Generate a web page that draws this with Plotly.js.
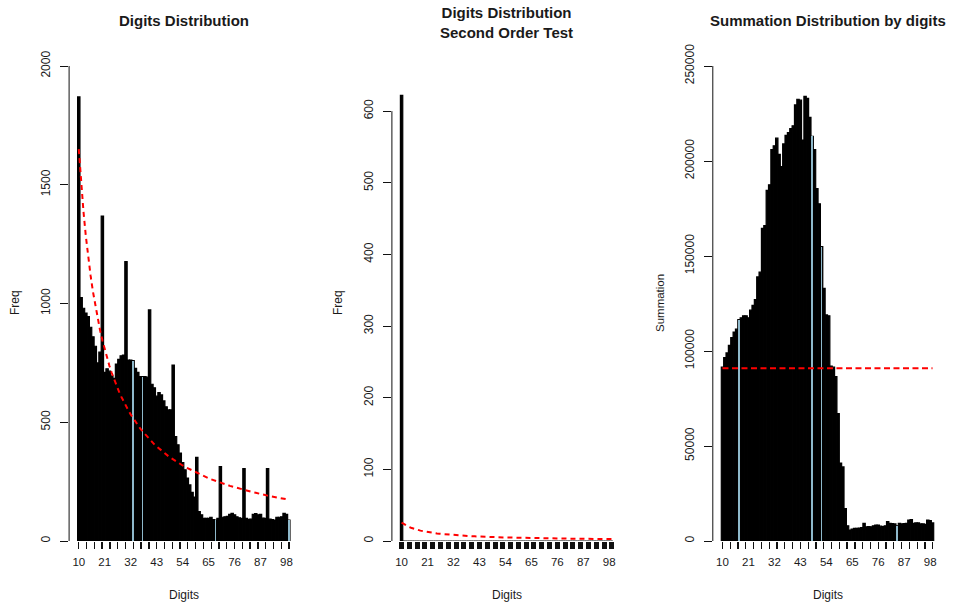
<!DOCTYPE html>
<html>
<head>
<meta charset="utf-8">
<script src="https://cdn.plot.ly/plotly-3.0.1.min.js"></script>
<style>html,body{margin:0;padding:0;background:#fff;}#chart{width:956px;height:605px;}</style>
</head>
<body>
<div id="chart"></div>
<script>
// ---- data ----
const digits = [10,11,12,13,14,15,16,17,18,19,20,21,22,23,24,25,26,27,28,29,30,31,32,33,34,35,36,37,38,39,40,41,42,43,44,45,46,47,48,49,50,51,52,53,54,55,56,57,58,59,60,61,62,63,64,65,66,67,68,69,70,71,72,73,74,75,76,77,78,79,80,81,82,83,84,85,86,87,88,89,90,91,92,93,94,95,96,97,98,99];

const freqFirstTwo = [1870,1025,980,960,945,900,860,820,750,795,
  1368,710,725,715,695,685,745,765,780,783,
  1176,762,762,760,727,710,692,692,692,690,
  973,660,645,610,625,615,590,565,552,552,
  741,440,405,370,330,300,265,236,205,185,
  352,124,110,95,95,95,100,90,88,95,
  313,100,102,104,112,116,110,102,98,95,
  305,95,91,92,112,115,110,112,96,95,
  305,92,90,88,100,100,102,116,112,88];

const expectedFirstTwo = [1650,1507,1386,1283,1195,1118,1050,990,936,888,
  845,806,770,737,707,679,654,630,608,587,
  568,550,533,517,502,488,474,462,450,438,
  428,417,407,398,389,381,372,365,357,350,
  343,336,330,324,318,312,307,301,296,291,
  286,282,277,273,269,264,260,257,253,249,
  246,242,239,236,232,229,226,223,221,218,
  215,213,210,207,205,203,200,198,196,193,
  191,189,187,185,183,181,179,178,176,174];

const freqSecondOrder = [622,0,0,0,0,0,0,0,0,0,
  0,0,0,0,0,0,0,0,0,0,
  0,0,0,0,0,0,0,0,0,0,
  0,0,0,0,0,0,0,0,0,0,
  0,0,0,0,0,0,0,0,0,0,
  0,0,0,0,0,0,0,0,0,0,
  0,0,0,0,0,0,0,0,0,0,
  0,0,0,0,0,0,0,0,0,0,
  0,0,0,0,0,0,0,0,0,0];

const expectedSecondOrder = [25.6,23.4,21.5,19.9,18.5,17.3,16.3,15.4,14.5,13.8,
  13.1,12.5,11.9,11.4,11.0,10.5,10.1,9.8,9.4,9.1,
  8.8,8.5,8.3,8.0,7.8,7.6,7.4,7.2,7.0,6.8,
  6.6,6.5,6.3,6.2,6.0,5.9,5.8,5.7,5.5,5.4,
  5.3,5.2,5.1,5.0,4.9,4.8,4.8,4.7,4.6,4.5,
  4.4,4.4,4.3,4.2,4.2,4.1,4.0,4.0,3.9,3.9,
  3.8,3.8,3.7,3.7,3.6,3.6,3.5,3.5,3.4,3.4,
  3.3,3.3,3.3,3.2,3.2,3.1,3.1,3.1,3.0,3.0,
  3.0,2.9,2.9,2.9,2.8,2.8,2.8,2.8,2.7,2.7];

const sumByDigits = [91500,96500,99000,103000,107000,110000,111500,116500,117500,118500,
  118500,117500,121500,124000,127000,139000,141500,164500,166000,184500,
  187500,206000,208000,212000,203500,197000,209000,213500,215000,217000,
  218500,229500,232500,232000,211000,234000,233000,223000,213000,206000,
  185500,177500,155000,133000,119000,118500,92000,91500,86500,67000,
  41000,39000,17000,8000,5800,6300,6600,6600,6800,7000,
  9300,7500,7600,7500,8000,8400,8400,7800,7600,8000,
  10200,9300,9200,9000,8000,9300,9000,9200,9300,11000,
  11200,9300,9500,9500,9000,9000,8800,11000,10800,9500];

const expectedSum = 90900;

const xTickLabels = [10,21,32,43,54,65,76,87,98];
const xMinorTicks = [10,13.3,16.6,19.9,23.2,26.5,29.8,33.1,36.4,39.7,43,46.3,49.6,52.9,56.2,59.5,62.8,66.1,69.4,72.7,76,79.3,82.6,85.9,89.2,92.5,95.8,99.1];
const yTicks1 = [0,500,1000,1500,2000];
const yTicks2 = [0,100,200,300,400,500,600];
const yTicks3 = [0,50000,100000,150000,200000,250000];
const lightDigits1 = [33,37,68,99];
const lightDigits3 = [17,48,52,84];

// ---- styling helpers ----
const W = 956, H = 605;
const px = v => v / W;
const py = v => (H - v) / H;
const FONT = '"Liberation Sans", Arial, sans-serif';
const INK = '#1a1a1a';
const LIGHT = '#8fb9cb';

const panels = [
  {x0: 69.1, x1: 298.5},
  {x0: 391.9, x1: 621.3},
  {x0: 712.8, x1: 942.2}
];
const yDom = [py(541), py(66)];

function pick(values, sel) { return sel.map(d => values[digits.indexOf(d)]); }

function barTrace(y, ax) {
  return {type: 'bar', x: digits, y: y, width: 1, xaxis: 'x' + ax, yaxis: 'y' + ax,
    marker: {color: '#000', line: {color: '#000', width: 1.2}}, hoverinfo: 'skip'};
}
function lightTrace(sel, values, ax) {
  return {type: 'bar', x: sel, y: pick(values, sel), width: 0.6, xaxis: 'x' + ax, yaxis: 'y' + ax,
    marker: {color: LIGHT, line: {width: 0}}, hoverinfo: 'skip'};
}
function lineTrace(x, y, ax, dash) {
  return {type: 'scatter', mode: 'lines', x: x, y: y, xaxis: 'x' + ax, yaxis: 'y' + ax,
    line: {color: '#ff0000', width: 2, dash: dash}, hoverinfo: 'skip'};
}

const data = [
  barTrace(freqFirstTwo, ''),
  lightTrace(lightDigits1, freqFirstTwo, ''),
  lineTrace(digits, expectedFirstTwo, '', '5px,4px'),
  barTrace(freqSecondOrder, '2'),
  lineTrace(digits, expectedSecondOrder, '2', '5px,4px'),
  barTrace(sumByDigits, '3'),
  lightTrace(lightDigits3, sumByDigits, '3'),
  lineTrace([digits[0], digits[digits.length - 1]], [expectedSum, expectedSum], '3', '6px,3.5px')
];

function xAxis(i, minorWidth) {
  const p = panels[i];
  return {
    domain: [px(p.x0), px(p.x1)], range: [5.9, 103.1], anchor: i === 0 ? 'y' : 'y' + (i + 1),
    tickmode: 'array', tickvals: xTickLabels, ticktext: xTickLabels.map(String),
    ticks: '', ticklabelstandoff: 12, showgrid: false, zeroline: false, showline: false,
    tickfont: {family: FONT, size: 11.5, color: INK},
    minor: {tickmode: 'array', tickvals: xMinorTicks, ticks: 'outside', ticklen: 7,
      tickwidth: minorWidth, tickcolor: '#111', showgrid: false},
    fixedrange: true
  };
}
function yAxis(i, ticks, top) {
  return {
    domain: yDom, range: [0, top], anchor: i === 0 ? 'x' : 'x' + (i + 1),
    tickmode: 'array', tickvals: ticks, ticktext: ticks.map(String), tickangle: -90,
    ticks: 'outside', ticklen: 8, tickwidth: 1, tickcolor: '#111', ticklabelstandoff: 5,
    showgrid: false, zeroline: false, showline: false,
    tickfont: {family: FONT, size: 12, color: INK}, fixedrange: true
  };
}

function axisLine(ax, ticks) {
  return {type: 'line', xref: 'x' + ax + ' domain', yref: 'y' + ax, x0: 0, x1: 0,
    y0: ticks[0], y1: ticks[ticks.length - 1], line: {color: '#111', width: 1}};
}

function ann(text, x, y, opts) {
  return Object.assign({text: text, xref: 'paper', yref: 'paper', x: px(x), y: py(y),
    xanchor: 'center', yanchor: 'middle', showarrow: false,
    font: {family: FONT, size: 12, color: INK}}, opts || {});
}
const titleFont = {family: FONT, size: 15, color: INK, weight: 'bold'};
const mid = i => (panels[i].x0 + panels[i].x1) / 2;

const layout = {
  width: W, height: H, margin: {l: 0, r: 0, t: 0, b: 0},
  paper_bgcolor: '#fff', plot_bgcolor: '#fff', showlegend: false,
  barmode: 'overlay', bargap: 0,
  xaxis: xAxis(0, 1.3), xaxis2: xAxis(1, 5), xaxis3: xAxis(2, 1.3),
  yaxis: yAxis(0, yTicks1, 2000), yaxis2: yAxis(1, yTicks2, 663), yaxis3: yAxis(2, yTicks3, 250000),
  shapes: [axisLine('', yTicks1), axisLine('2', yTicks2), axisLine('3', yTicks3)],
  annotations: [
    ann('Digits Distribution', mid(0), 20, {font: titleFont}),
    ann('Digits Distribution<br>Second Order Test', mid(1), 23, {font: titleFont}),
    ann('Summation Distribution by digits', mid(2), 20, {font: titleFont}),
    ann('Digits', mid(0), 595),
    ann('Digits', mid(1), 595),
    ann('Digits', mid(2), 595),
    ann('Freq', 15, 303, {textangle: -90}),
    ann('Freq', 338, 303, {textangle: -90}),
    ann('Summation', 660, 303, {textangle: -90, font: {family: FONT, size: 11.5, color: INK}})
  ]
};

Plotly.newPlot('chart', data, layout, {displayModeBar: false, staticPlot: true});
</script>
</body>
</html>
